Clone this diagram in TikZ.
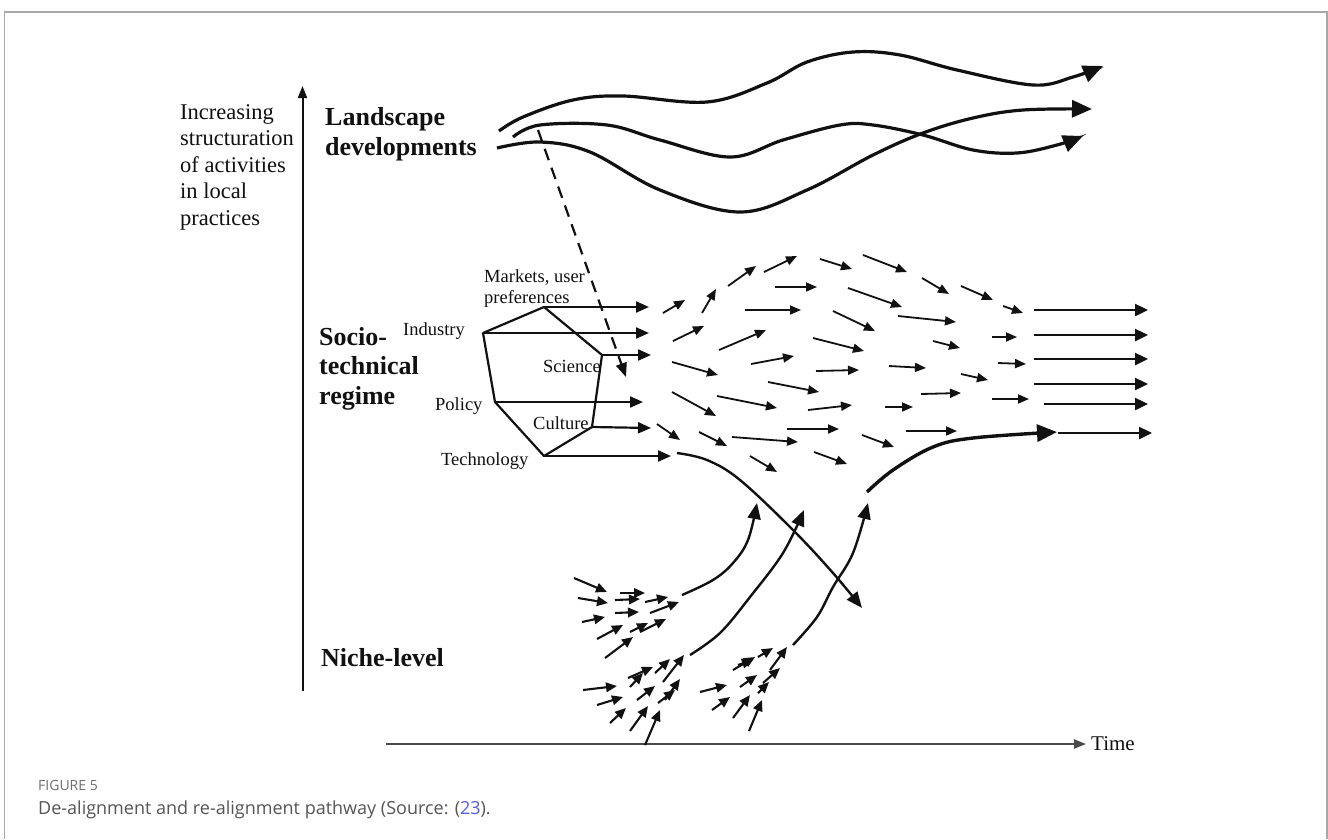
\documentclass[tikz,border=0pt]{standalone}
\usepackage{fontspec}
\setmainfont{Liberation Serif}
\newfontfamily\capfont{Open Sans}
\usetikzlibrary{arrows.meta}

\definecolor{framegray}{HTML}{A8A8A8}
\definecolor{axisgray}{HTML}{4A4A4A}
\definecolor{capgray}{HTML}{555555}
\definecolor{figgray}{HTML}{6E6E6E}
\definecolor{linkblue}{HTML}{5560D8}
\definecolor{ink}{HTML}{111111}

\begin{document}
\begin{tikzpicture}[x=1pt,y=-1pt,
  txt/.style={inner sep=0pt,anchor=base west,text=ink},
  axistext/.style={txt,font=\fontsize{22.5}{26.5}\selectfont,align=left},
  level/.style={txt,font=\bfseries\fontsize{26}{30}\selectfont,align=left},
  facet/.style={txt,font=\fontsize{18.5}{21}\selectfont,align=left},
  axisline/.style={line width=2pt,draw=axisgray,-{Triangle[length=12pt,width=9pt]}},
  land/.style={line width=3.2pt,draw=ink,-{Triangle[length=20pt,width=17pt]}},
  hexline/.style={line width=2.2pt,draw=ink,line join=round},
  hexarrow/.style={line width=2.2pt,draw=ink,-{Triangle[length=13pt,width=11pt]}},
  flow/.style={line width=1.8pt,draw=ink,-{Triangle[length=11pt,width=9pt]}},
  seed/.style={line width=2.1pt,draw=ink,-{Triangle[length=11pt,width=9.5pt]}},
  pathway/.style={line width=2.4pt,draw=ink,-{Triangle[length=16pt,width=13pt]}},
  stable/.style={line width=2.4pt,draw=ink,-{Triangle[length=13pt,width=12pt]}},
  shock/.style={line width=2.2pt,draw=ink,dash pattern=on 12pt off 8pt,-{Triangle[length=14pt,width=11pt]}},
]
\useasboundingbox (0,0) rectangle (1328,839);
\fill[white] (0,0) rectangle (1328,839);

% outer frame
\draw[framegray,line width=1.3pt] (4.5,839) -- (4.5,12) -- (1327,12) -- (1327,839);

% axes
\coordinate (ybot) at (302.5,691);
\coordinate (ytop) at (302.5,86);
\draw[axisline,draw=ink] (ybot) -- (ytop);
\coordinate (tstart) at (386,744);
\coordinate (tend) at (1086,744);
\draw[axisline] (tstart) -- (tend);
\node[txt,font=\fontsize{21}{24}\selectfont] (timelbl) at (1091,750) {Time};

% axis description and level names (anchor = baseline of the last line)
\node[axistext] (ylbl) at (180,225) {Increasing\\structuration\\of activities\\in local\\practices};
\node[level] (landlbl) at (325,155) {Landscape\\developments};
\node[level,font=\bfseries\fontsize{26}{29.5}\selectfont] (regimelbl) at (319,404) {Socio-\\technical\\regime};
\node[level] (nichelbl) at (321,666) {Niche-level};

% landscape developments
\draw[land] plot[smooth,tension=0.6] coordinates {(499,131) (523,117) (573,100) (623,96) (707,102) (767,83) (807,62) (853,52) (900,55) (957,70) (1033,85) (1073,77) (1103,66)};
\draw[land] plot[smooth,tension=0.6] coordinates {(513,137) (540,125) (607,125) (660,140) (730,157) (783,140) (840,125) (873,125) (923,135) (973,150) (1017,153) (1057,145) (1083,136)};
\draw[land] plot[smooth,tension=0.6] coordinates {(497,148) (540,142) (590,152) (660,190) (740,212) (807,190) (873,155) (923,133) (973,118) (1023,110) (1092,109)};

% landscape pressure on the regime
\coordinate (shockA) at (538,130);
\coordinate (shockB) at (626,377);
\draw[shock] (shockA) -- (shockB);

% regime hexagon
\coordinate (hTop) at (544,307);
\coordinate (hSci) at (602,355);
\coordinate (hCul) at (592,427);
\coordinate (hBot) at (544,456);
\coordinate (hPol) at (495,402);
\coordinate (hInd) at (483,333);
\draw[hexline] (hTop) -- (hSci) -- (hCul) -- (hBot) -- (hPol) -- (hInd) -- cycle;

\node[facet] (markets) at (484,303) {Markets, user\\preferences};
\node[facet] (industry) at (403,335) {Industry};
\node[facet] (science) at (543,372) {Science};
\node[facet] (policy) at (435,410) {Policy};
\node[facet] (culture) at (533,429) {Culture};
\node[facet] (technology) at (441,465) {Technology};

\coordinate (eTop) at (649,307);
\coordinate (eInd) at (649,333);
\coordinate (eSci) at (651,355);
\coordinate (ePol) at (643,402);
\coordinate (eCul) at (651,428);
\coordinate (eBot) at (671,456);
\draw[hexarrow] (hTop) -- (eTop);
\draw[hexarrow] (hInd) -- (eInd);
\draw[hexarrow] (hSci) -- (eSci);
\draw[hexarrow] (hPol) -- (ePol);
\draw[hexarrow] (hCul) -- (eCul);
\draw[hexarrow] (hBot) -- (eBot);

% de-aligned regime activities
\foreach \xa/\ya/\xb/\yb in {
  663/313/685/300, 702/313/716/289, 728/286/756/266, 764/272/797/256,
  820/259/852/269, 863/255/907/272, 775/287/817/287, 848/288/902/307,
  922/278/949/294, 961/286/993/300, 1003/306/1023/313, 745/310/801/310,
  833/311/875/331, 898/316/956/322, 673/341/704/326, 719/350/766/330,
  813/338/864/351, 933/341/960/348, 992/337/1017/337, 672/362/718/375,
  751/364/794/356, 816/371/859/370, 889/366/926/368, 998/363/1026/364,
  961/374/988/380, 768/382/819/392, 672/392/716/416, 717/396/777/408,
  808/410/852/405, 885/407/913/407, 921/394/961/393, 992/399/1029/399,
  657/424/680/440, 699/432/727/446, 732/437/798/442, 787/429/839/429,
  862/435/894/447, 906/431/957/431, 750/456/777/472, 814/452/847/464}
  \draw[flow] (\xa,\ya) -- (\xb,\yb);

% re-aligned regime
\foreach \yy/\xs/\xe in {310/1034/1148, 335/1034/1148, 359/1034/1148, 384/1034/1148, 404/1044/1148, 433/1058/1152}
  \draw[stable] (\xs,\yy) -- (\xe,\yy);

% technology trajectory leaving the regime
\draw[pathway] plot[smooth,tension=0.6] coordinates {(677,453) (707,460) (740,480) (793,530) (833,573) (862,608)};

% niche trajectories
\draw[pathway] plot[smooth,tension=0.6] coordinates {(682,595) (713,580) (733,563) (748,540) (757,503)};
\draw[pathway] plot[smooth,tension=0.6] coordinates {(690,655) (720,633) (750,597) (783,553) (804,510)};
\draw[pathway] plot[smooth,tension=0.6] coordinates {(793,645) (817,617) (833,587) (853,553) (868,503)};

% new regime forming from a niche
\draw[line width=3.4pt,draw=ink,-{Triangle[length=20pt,width=17pt]}] plot[smooth,tension=0.6] coordinates {(867,492) (893,470) (933,447) (973,438) (1057,432)};

% niche experiments
\foreach \xa/\ya/\xb/\yb in {
  574/578/607/592, 578/598/608/603, 582/622/605/617, 620/593/645/593,
  615/600/640/599, 615/613/639/612, 645/602/668/597, 650/613/679/602,
  597/639/623/625, 630/632/648/623, 640/632/666/619, 605/658/633/637,
  583/690/617/686, 597/705/623/697, 610/723/626/708, 630/731/648/706,
  645/745/660/710, 628/678/653/667, 630/687/643/673, 637/700/655/686,
  655/673/670/659, 663/682/684/655, 658/703/675/690, 665/700/680/679,
  700/692/727/685, 712/710/730/697, 733/718/750/695, 749/731/762/700,
  733/670/755/657, 738/665/753/660, 740/687/757/675, 758/657/773/648,
  758/693/769/682, 763/683/780/668, 770/670/787/647}
  \draw[seed] (\xa,\ya) -- (\xb,\yb);

% caption
\node[inner sep=0pt,anchor=base west,text=figgray,font=\capfont\fontsize{14}{16}\selectfont] (figno) at (38,790) {FIGURE 5};
\node[inner sep=0pt,anchor=base west,text=capgray,font=\capfont\fontsize{18}{21}\selectfont] (caption) at (38,814) {De-alignment and re-alignment pathway (Source: (\textcolor{linkblue}{23}).};
\end{tikzpicture}
\end{document}
